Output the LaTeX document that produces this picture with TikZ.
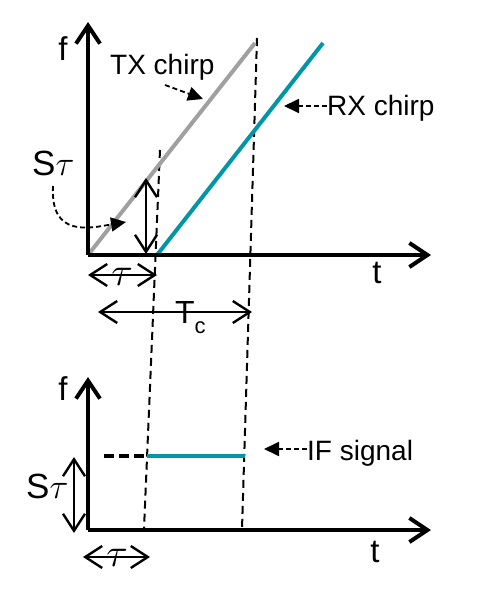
\RequirePackage{fix-cm}
\documentclass[tikz,border=0pt]{standalone}
\usepackage{fontspec}
\setmainfont{Liberation Sans}
\usetikzlibrary{arrows.meta}
\definecolor{rxteal}{RGB}{0,150,168}
\definecolor{txgrey}{RGB}{160,160,160}
\begin{document}
\begin{tikzpicture}[x=1pt,y=-1pt,
  axis/.style={line width=4pt,line join=miter,
    -{Straight Barb[length=18pt,width=24pt,line width=4pt]}},
  dblarrow/.style={line width=2.6pt,
    {Straight Barb[length=17pt,width=22pt,line width=2.4pt]}-{Straight Barb[length=17pt,width=22pt,line width=2.4pt]}},
  guide/.style={line width=2pt,dash pattern=on 8pt off 5pt},
  note/.style={line width=1.8pt,dash pattern=on 5pt off 3pt,-{Triangle[length=15pt,width=14pt]}},
  chirp/.style={line width=4pt},
  lbl/.style={inner sep=0pt,font=\fontsize{28}{30}\selectfont},
  stlbl/.style={inner sep=0pt,font=\fontsize{35}{37}\selectfont},
  axlbl/.style={inner sep=0pt,font=\fontsize{33}{35}\selectfont},
  taulbl/.style={inner sep=0pt,font=\fontsize{40}{42}\selectfont}]
\useasboundingbox (0,0) rectangle (498,589);

% ---- top plot ----
\coordinate (o1) at (88,255);
\coordinate (ytop1) at (88,22);
\coordinate (xend1) at (431,255);
\coordinate (txend) at (255,43);
\coordinate (rxstart) at (157,255);
\coordinate (rxend) at (323,43);
\coordinate (d1top) at (160,150);
\coordinate (d1bot) at (144,529);
\coordinate (d2top) at (257,38);
\coordinate (d2bot) at (242,529);

\draw[guide] (d1top) -- (d1bot);
\draw[guide] (d2top) -- (d2bot);
\draw[chirp,txgrey] (o1) -- (txend);
\draw[chirp,rxteal] (rxstart) -- (rxend);
\draw[axis] (o1) -- (ytop1);
\draw[axis] (o1) -- (xend1);

\node[axlbl,anchor=base] (f1) at (63,60) {f};
\node[axlbl,anchor=base] (t1) at (377,283) {t};

\coordinate (sa1) at (146,178);
\coordinate (sa2) at (146,254);
\draw[dblarrow] (sa1) -- (sa2);
\node[stlbl,anchor=base west] (st1) at (32,175) {S$\tau$};
\coordinate (cv0) at (53,186);
\coordinate (cvtip) at (126,222);
\draw[note] (cv0) .. controls (50,238) and (90,228) .. (cvtip);

\node[lbl,anchor=base west] (txlbl) at (110,74) {TX chirp};
\coordinate (txa0) at (165,85);
\coordinate (txtip) at (203,99);
\draw[note] (txa0) -- (txtip);

\node[lbl,anchor=base west] (rxlbl) at (327,115) {RX chirp};
\coordinate (rxtip) at (284,106);
\draw[note] (rxlbl.west |- rxtip) -- (rxtip);

\coordinate (ta1) at (88,275);
\coordinate (ta2) at (157,275);
\draw[dblarrow] (ta1) -- (ta2);
\node[taulbl] (tau1) at (122,277) {$\tau$};

\coordinate (tc1) at (98,312);
\coordinate (tc2) at (252,312);
\draw[dblarrow] (tc1) -- (tc2);
\node[inner sep=0pt,anchor=base west,font=\fontsize{32}{34}\selectfont] (tclbl) at (175,323) {T\raisebox{-10pt}{\fontsize{22}{22}\selectfont c}};

% ---- bottom plot ----
\coordinate (o2) at (88,530);
\coordinate (ytop2) at (88,377);
\coordinate (xend2) at (431,530);
\draw[axis] (o2) -- (ytop2);
\draw[axis] (o2) -- (xend2);
\node[axlbl,anchor=base] (f2) at (63,400) {f};
\node[axlbl,anchor=base] (t2) at (375,562) {t};

\coordinate (if1) at (147,456);
\coordinate (if2) at (245,456);
\coordinate (ifd) at (104,456);
\draw[line width=4pt,dash pattern=on 10pt off 5pt] (ifd) -- (if1);
\draw[chirp,rxteal] (if1) -- (if2);

\node[lbl,anchor=base west] (iflbl) at (307,460) {IF signal};
\coordinate (iftip) at (264,449);
\draw[note] (iflbl.west |- iftip) -- (iftip);

\coordinate (sb1) at (74,457);
\coordinate (sb2) at (74,533);
\draw[dblarrow] (sb1) -- (sb2);
\node[stlbl,anchor=base west] (st2) at (26,498) {S$\tau$};

\coordinate (tb1) at (83,557);
\coordinate (tb2) at (150,557);
\draw[dblarrow] (tb1) -- (tb2);
\node[taulbl] (tau2) at (117,558) {$\tau$};
\end{tikzpicture}
\end{document}
